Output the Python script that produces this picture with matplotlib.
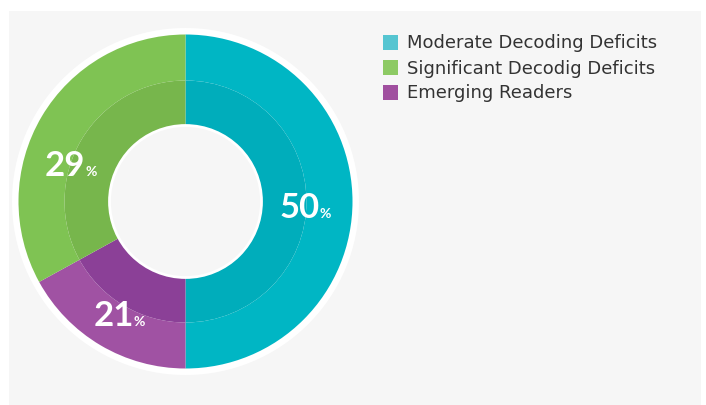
import matplotlib
matplotlib.use("Agg")
import matplotlib.pyplot as plt
from matplotlib.patches import Rectangle, Circle

# ---- data ----
categories = ["Moderate Decoding Deficits", "Emerging Readers", "Significant Decodig Deficits"]
shares = [50, 17, 33]               # slice sizes as drawn in the picture
pct_labels = ["50", "21", "29"]     # printed percentages
outer_colors = ["#00B6C4", "#A052A3", "#7FC353"]
inner_colors = ["#00ADBB", "#8B4097", "#77B64C"]
legend_order = [0, 2, 1]
legend_colors = ["#55C5D1", "#8DCA64", "#A04F9F"]

W, H = 706, 405
fig = plt.figure(figsize=(W / 100, H / 100), dpi=100)
fig.patch.set_facecolor("white")
ax = fig.add_axes([0, 0, 1, 1])

def Y(y):
    return H - y

cx, cy = 185.5, Y(201.5)
R_out, R_mid, R_in = 167, 121, 76

ax.pie(shares, colors=outer_colors, radius=R_out, center=(cx, cy), startangle=90,
       counterclock=False, wedgeprops=dict(width=R_out - R_mid, linewidth=0, zorder=2), frame=True)
ax.pie(shares, colors=inner_colors, radius=R_mid, center=(cx, cy), startangle=90,
       counterclock=False, wedgeprops=dict(width=R_mid - R_in, linewidth=0, zorder=2), frame=True)
ax.set_xlim(0, W)
ax.set_ylim(0, H)
ax.set_aspect("equal")
ax.axis("off")

# gray panel
ax.add_patch(Rectangle((9, Y(405)), 692, 394, facecolor="#f6f6f6", edgecolor="none", zorder=0))
ax.add_patch(Circle((cx, cy), R_out + 6.5, facecolor="white", edgecolor="none", zorder=1))
ax.add_patch(Circle((cx, cy), R_in, facecolor="#f6f6f6", edgecolor="white", linewidth=2, zorder=5))

# percentage labels: (right edge of number, baseline)
label_pos = {"50": (320, 218), "21": (134, 326), "29": (85, 176)}
for lab in pct_labels:
    x, y = label_pos[lab]
    ax.text(x, Y(y), lab, ha="right", va="baseline", color="white", fontsize=25,
            fontweight="bold", family="Lato", zorder=6)
    ax.text(x, Y(y), "%", ha="left", va="baseline", color="white", fontsize=10,
            fontweight="bold", family="Lato", zorder=6)

# legend
for i, idx in enumerate(legend_order):
    top = 35 + 25 * i
    ax.add_patch(Rectangle((383, Y(top + 15)), 15, 15, facecolor=legend_colors[i],
                           edgecolor="none", zorder=6))
    ax.text(407, Y(top + 13.5), categories[idx], ha="left", va="baseline", color="#333333",
            fontsize=13, family="DejaVu Sans", zorder=6)

fig.savefig("out.png", dpi=100, facecolor="white")
